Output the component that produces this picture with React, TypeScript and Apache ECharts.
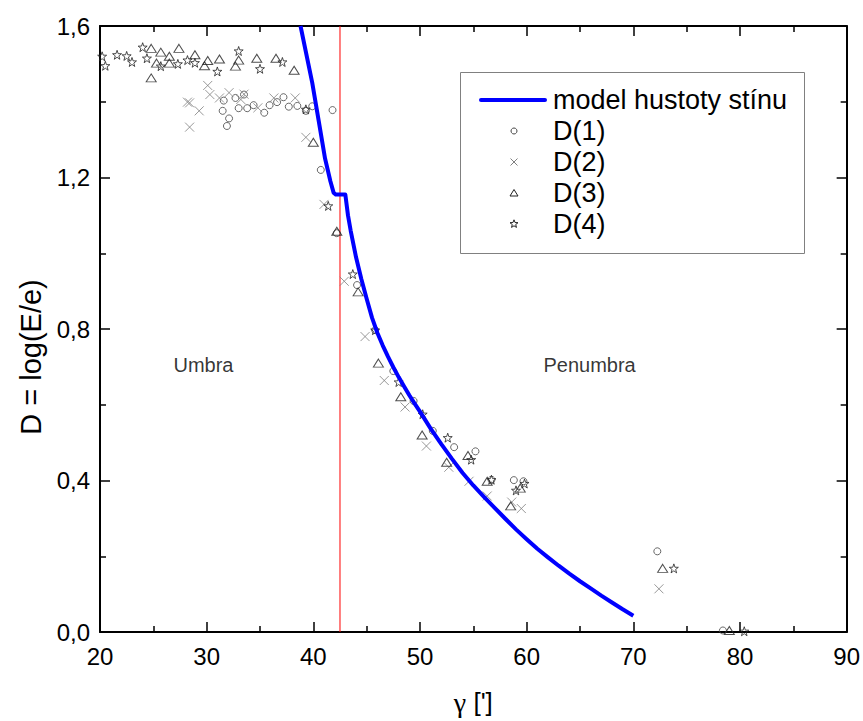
import React, { useEffect, useRef } from "react";
import * as echarts from "echarts";

// ---- data ----
const modelX = [38.8, 39.9, 40.5, 41.1, 41.6, 41.9, 42.1, 43.0, 43.25, 43.5, 44.0, 44.5, 45.0, 45.5, 46.0, 46.5, 47.0, 47.5, 48.0, 48.5, 49.0, 49.5, 50.0, 51.0, 52.0, 53.0, 54.0, 55.0, 56.0, 57.0, 58.0, 59.0, 60.0, 61.0, 62.0, 63.0, 64.0, 65.0, 66.0, 67.0, 68.0, 69.0, 70.0];
const modelY = [1.6, 1.45, 1.35, 1.25, 1.19, 1.16, 1.155, 1.155, 1.1, 1.06, 0.99, 0.932, 0.88, 0.83, 0.79, 0.757, 0.727, 0.699, 0.673, 0.649, 0.625, 0.603, 0.582, 0.537, 0.496, 0.457, 0.42, 0.387, 0.357, 0.328, 0.299, 0.271, 0.245, 0.22, 0.197, 0.175, 0.154, 0.134, 0.115, 0.096, 0.078, 0.06, 0.043];

const d1X = [31.6, 31.5, 31.9, 32.1, 32.7, 33.0, 33.5, 33.8, 34.4, 35.4, 35.9, 36.6, 37.2, 37.7, 38.5, 39.3, 39.9, 41.8, 40.7, 42.2, 44.1, 45.8, 47.5, 49.4, 51.2, 53.2, 55.2, 56.7, 58.8, 59.7, 72.25, 78.4];
const d1Y = [1.403, 1.376, 1.336, 1.356, 1.41, 1.383, 1.419, 1.383, 1.391, 1.371, 1.391, 1.399, 1.412, 1.387, 1.389, 1.376, 1.388, 1.378, 1.22, 1.053, 0.916, 0.797, 0.689, 0.61, 0.531, 0.488, 0.477, 0.402, 0.401, 0.398, 0.213, 0.004];

const d2X = [28.2, 28.4, 28.4, 29.3, 30.1, 30.3, 31.2, 32.1, 33.2, 33.5, 34.8, 36.3, 38.3, 39.3, 41.0, 42.9, 44.85, 46.65, 48.6, 50.6, 52.7, 54.6, 56.3, 58.6, 59.5, 72.4];
const d2Y = [1.399, 1.397, 1.333, 1.376, 1.443, 1.419, 1.41, 1.424, 1.406, 1.42, 1.384, 1.41, 1.41, 1.306, 1.129, 0.926, 0.78, 0.664, 0.594, 0.491, 0.435, 0.398, 0.359, 0.343, 0.326, 0.114];

const d3X = [24.8, 24.8, 25.3, 25.7, 26.5, 26.5, 27.4, 28.9, 29.8, 30.1, 31.2, 32.7, 33.0, 34.7, 36.5, 38.2, 40.0, 42.2, 44.2, 46.1, 48.2, 50.2, 52.5, 54.5, 56.3, 58.5, 59.4, 72.75, 79.0];
const d3Y = [1.541, 1.463, 1.502, 1.531, 1.52, 1.502, 1.541, 1.524, 1.495, 1.509, 1.513, 1.494, 1.51, 1.515, 1.515, 1.483, 1.293, 1.058, 0.898, 0.71, 0.621, 0.52, 0.448, 0.466, 0.398, 0.333, 0.38, 0.168, 0.004];

const d4X = [20.2, 20.5, 21.6, 22.5, 23.0, 24.0, 24.4, 25.7, 27.3, 28.2, 28.9, 31.0, 33.0, 35.0, 37.1, 39.3, 41.4, 43.7, 45.8, 48.0, 50.25, 52.6, 54.8, 56.7, 59.0, 59.8, 73.8, 80.4];
const d4Y = [1.52, 1.495, 1.524, 1.521, 1.505, 1.544, 1.515, 1.494, 1.5, 1.51, 1.503, 1.48, 1.534, 1.487, 1.505, 1.38, 1.125, 0.945, 0.797, 0.66, 0.575, 0.513, 0.455, 0.402, 0.374, 0.392, 0.168, 0.002];

const boundaryX = [42.5, 42.5];
const boundaryY = [0, 1.6];

const regionNames = ["Umbra", "Penumbra"];
const regionX = [29.7, 65.9];
const regionY = [0.704, 0.704];

const seriesNames = ["model hustoty stínu", "D(1)", "D(2)", "D(3)", "D(4)"];
const xTicks = { min: 20, max: 90, step: 10 };
const yTicks = { min: 0, max: 1.6, step: 0.4 };

const zip = (xs: number[], ys: number[]) => xs.map((x, i) => [x, ys[i]]);

const CROSS = "path://M0 0L10 10M10 0L0 10";
const STAR = "path://M50 0L61.76 33.82L97.55 34.55L69.02 56.18L79.39 90.45L50 70L20.61 90.45L30.98 56.18L2.45 34.55L38.24 33.82Z";

const FONT = "'Liberation Sans', Arial, sans-serif";
const SERIF = "'Liberation Serif', 'Times New Roman', serif";

export default function App() {
  const ref = useRef<HTMLDivElement>(null);
  useEffect(() => {
    if (!ref.current) return;
    const chart = echarts.init(ref.current, null, { renderer: "svg" });
    const axisLine = { onZero: false, lineStyle: { color: "#000", width: 2 } };
    const tick = { inside: true, length: 10, lineStyle: { color: "#000", width: 1.5 } };
    const minor = { show: true, splitNumber: 2, length: 6, lineStyle: { color: "#000", width: 1.5 } };
    const fmtY = (v: number) => v.toFixed(1).replace(".", ",");
    const legendTop = 100;
    const pitch = 31;
    const lx = 514;
    const ly = (i: number) => legendTop + pitch * i;
    const option: any = {
      animation: false,
      textStyle: { fontFamily: FONT },
      grid: { left: 100, right: 12, top: 26, bottom: 84 },
      xAxis: [
        {
          type: "value", min: xTicks.min, max: xTicks.max, interval: xTicks.step, position: "bottom",
          name: "{g|γ} [']", nameLocation: "middle", nameGap: 56,
          nameTextStyle: {
            fontSize: 26, color: "#000", fontFamily: FONT,
            rich: { g: { fontSize: 28, fontFamily: SERIF, color: "#000" } },
          },
          axisLine, axisTick: tick, minorTick: minor,
          axisLabel: { fontSize: 24, color: "#000", margin: 12 },
          splitLine: { show: false },
        },
        {
          type: "value", min: xTicks.min, max: xTicks.max, interval: xTicks.step, position: "top",
          axisLine, axisTick: tick, minorTick: minor, axisLabel: { show: false }, splitLine: { show: false },
        },
      ],
      yAxis: [
        {
          type: "value", min: yTicks.min, max: yTicks.max, interval: yTicks.step, position: "left",
          name: "D = log(E/e)", nameLocation: "middle", nameGap: 55, nameRotate: 90,
          nameTextStyle: { fontSize: 29, color: "#000", fontFamily: FONT, padding: [0, 56, 0, 0] },
          axisLine, axisTick: tick, minorTick: minor,
          axisLabel: { fontSize: 24, color: "#000", margin: 10, formatter: fmtY },
          splitLine: { show: false },
        },
        {
          type: "value", min: yTicks.min, max: yTicks.max, interval: yTicks.step, position: "right",
          axisLine, axisTick: tick, minorTick: minor, axisLabel: { show: false }, splitLine: { show: false },
        },
      ],
      series: [
        {
          name: "boundary", type: "line", data: zip(boundaryX, boundaryY), symbol: "none", silent: true,
          lineStyle: { color: "#ff0000", width: 1 }, z: 1,
        },
        {
          name: seriesNames[1], type: "scatter", data: zip(d1X, d1Y), symbol: "circle", symbolSize: 7, silent: true,
          itemStyle: { color: "rgba(0,0,0,0)", borderColor: "#444", borderWidth: 1 }, z: 3,
        },
        {
          name: seriesNames[2], type: "scatter", data: zip(d2X, d2Y), symbol: CROSS, symbolSize: 9, silent: true,
          itemStyle: { color: "rgba(0,0,0,0)", borderColor: "#808080", borderWidth: 1 }, z: 3,
        },
        {
          name: seriesNames[3], type: "scatter", data: zip(d3X, d3Y), symbol: "triangle", symbolSize: [10, 8], silent: true,
          itemStyle: { color: "rgba(0,0,0,0)", borderColor: "#222", borderWidth: 1 }, z: 3,
        },
        {
          name: seriesNames[4], type: "scatter", data: zip(d4X, d4Y), symbol: STAR, symbolSize: 9, silent: true,
          itemStyle: { color: "rgba(0,0,0,0)", borderColor: "#222", borderWidth: 1 }, z: 3,
        },
        {
          name: seriesNames[0], type: "line", data: zip(modelX, modelY), symbol: "none", silent: true,
          lineStyle: { color: "#0000ff", width: 4, join: "round" }, z: 4,
        },
        {
          name: "regions", type: "scatter", symbolSize: 0, silent: true,
          data: regionX.map((x, i) => ({ value: [x, regionY[i]], name: regionNames[i] })),
          label: { show: true, position: "inside", formatter: (p: any) => p.name, fontSize: 20, color: "#000", fontFamily: FONT },
        },
      ],
      graphic: [
        { type: "rect", shape: { x: 460.5, y: 72.5, width: 344, height: 181 }, style: { fill: "#fff", stroke: "#808080", lineWidth: 1 }, z: 10 },
        { type: "line", shape: { x1: 481, y1: ly(0), x2: 545, y2: ly(0) }, style: { stroke: "#0000ff", lineWidth: 4, lineCap: "round" }, z: 11 },
        { type: "circle", shape: { cx: lx, cy: ly(1), r: 3 }, style: { fill: "none", stroke: "#444", lineWidth: 1 }, z: 11 },
        { type: "line", shape: { x1: lx - 3.5, y1: ly(2) - 3.5, x2: lx + 3.5, y2: ly(2) + 3.5 }, style: { stroke: "#808080", lineWidth: 1 }, z: 11 },
        { type: "line", shape: { x1: lx - 3.5, y1: ly(2) + 3.5, x2: lx + 3.5, y2: ly(2) - 3.5 }, style: { stroke: "#808080", lineWidth: 1 }, z: 11 },
        { type: "polygon", shape: { points: [[lx, ly(3) - 3.5], [lx + 4, ly(3) + 3], [lx - 4, ly(3) + 3]] }, style: { fill: "none", stroke: "#222", lineWidth: 1 }, z: 11 },
        {
          type: "polygon",
          shape: {
            points: [0, 1, 2, 3, 4, 5, 6, 7, 8, 9].map((k) => {
              const r = k % 2 === 0 ? 4.2 : 1.8;
              const a = -Math.PI / 2 + (k * Math.PI) / 5;
              return [lx + r * Math.cos(a), ly(4) + r * Math.sin(a)];
            }),
          },
          style: { fill: "none", stroke: "#222", lineWidth: 1 }, z: 11,
        },
        ...seriesNames.map((n, i) => ({
          type: "text", x: 553, y: ly(i),
          style: { text: n, fontSize: 27, fontFamily: FONT, fill: "#000", verticalAlign: "middle", align: "left" },
          z: 11,
        })),
      ],
    };
    chart.setOption(option);
    return () => chart.dispose();
  }, []);
  return <div ref={ref} style={{ position: "fixed", left: 0, top: 0, width: 863, height: 721, background: "#fff" }} />;
}
